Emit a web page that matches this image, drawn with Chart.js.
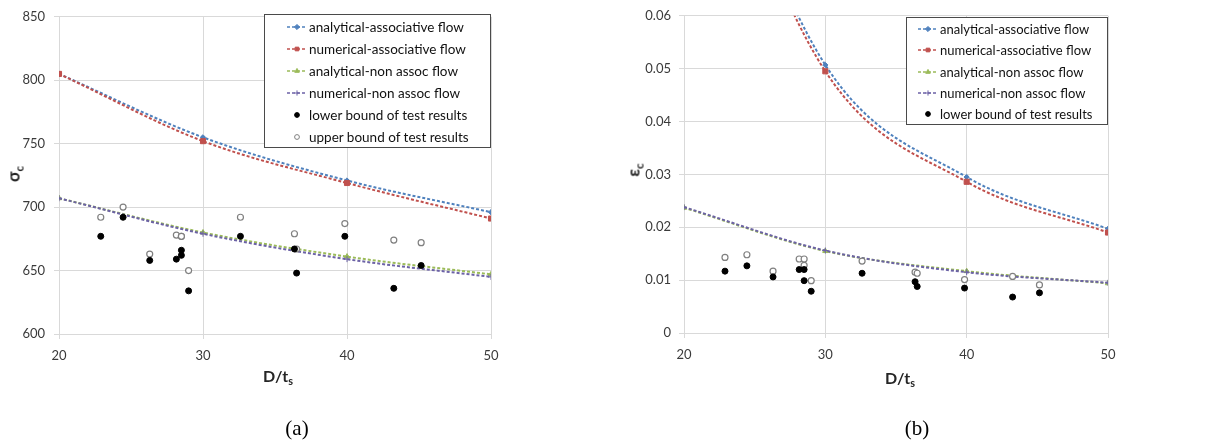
<!DOCTYPE html>
<html>
<head>
<meta charset="utf-8">
<script src="https://cdn.jsdelivr.net/npm/chart.js@4.4.1/dist/chart.umd.min.js"></script>
<style>
  body { margin: 0; background: #fff; }
  #page { position: relative; width: 1215px; height: 445px; overflow: hidden; font-family: Lato, "Noto Sans", sans-serif; }
  .panel { position: absolute; top: 0; }
  .legend { position: absolute; background: #fff; border: 1px solid #4a4a4a; box-sizing: border-box; }
  .legend .row { position: absolute; left: 0; display: flex; align-items: center; white-space: nowrap; color: #111; }
  .legend canvas { display: block; }
  .ytitle, .xtitle { position: absolute; font-weight: bold; color: #262626; font-size: 16px; white-space: nowrap; font-family: Lato, "DejaVu Sans", sans-serif; }
  .ytitle { transform: translate(-50%, -50%) rotate(-90deg); font-size: 17px; }
  .xtitle { transform: translate(-50%, -50%); }
  .caption { position: absolute; font-family: "Liberation Serif", "Times New Roman", serif; font-size: 21px; color: #000; transform: translate(-50%, -50%); }
  sub { font-size: 68%; vertical-align: -0.35em; line-height: 0; }
</style>
</head>
<body>
<div id="page">
  <div class="panel" style="left:0px"><canvas id="chartA" width="600" height="390"></canvas></div>
  <div class="panel" style="left:600px"><canvas id="chartB" width="615" height="390"></canvas></div>
  <div class="legend" id="legendA" style="left:264px; top:14px; width:227px; height:134px"></div>
  <div class="legend" id="legendB" style="left:906px; top:17px; width:202px; height:108px"></div>
  <div class="ytitle" style="left:13px; top:174px">σ<sub>c</sub></div>
  <div class="ytitle" style="left:633px; top:170px">ε<sub>c</sub></div>
  <div class="xtitle" style="left:278px; top:375px">D/t<sub>s</sub></div>
  <div class="xtitle" style="left:900px; top:377px">D/t<sub>s</sub></div>
  <div class="caption" style="left:297px; top:428px">(a)</div>
  <div class="caption" style="left:917px; top:428px">(b)</div>
</div>
<script>
// D/ts values where the model curves were evaluated
const dtCurve = [20, 30, 40, 50];

// (a) critical stress
const sigmaAnalyticalAssoc = [805, 755, 721, 696];
const sigmaNumericalAssoc = [805, 752, 719, 691];
const sigmaAnalyticalNon = [707, 680, 661, 647];
const sigmaNumericalNon = [707, 679, 659, 645];

// (b) critical strain (assoc values at 20 are above the axis, estimated)
const epsAnalyticalAssoc = [0.112, 0.0507, 0.0295, 0.0197];
const epsNumericalAssoc = [0.11, 0.0495, 0.0286, 0.019];
const epsAnalyticalNon = [0.0237, 0.0155, 0.0117, 0.0094];
const epsNumericalNon = [0.0238, 0.0156, 0.0115, 0.0095];

// test specimens
const dtTests = [22.9, 24.45, 26.3, 28.15, 28.5, 28.5, 29.0, 32.6, 36.35, 36.5, 39.85, 43.25, 45.15];
const sigmaLower = [677, 692, 658, 659, 666, 662, 634, 677, 667, 648, 677, 636, 654];
const sigmaUpper = [692, 700, 663, 678, 677, 677, 650, 692, 679, 667, 687, 674, 672];
const epsLower = [0.0117, 0.0127, 0.0106, 0.012, 0.012, 0.0099, 0.0079, 0.0113, 0.0097, 0.0088, 0.0085, 0.0068, 0.0076];
const epsUpper = [0.0143, 0.0148, 0.0117, 0.014, 0.014, 0.0128, 0.0099, 0.0136, 0.0115, 0.0113, 0.0101, 0.0107, 0.0091];

const seriesLabels = [
    'analytical-associative flow',
    'numerical-associative flow',
    'analytical-non assoc flow',
    'numerical-non assoc flow',
    'lower bound of test results',
    'upper bound of test results'
];

const xTicks = [20, 30, 40, 50];
const sigmaTicks = [600, 650, 700, 750, 800, 850];
const epsTicks = [0, 0.01, 0.02, 0.03, 0.04, 0.05, 0.06];

const gridColor = '#d9d9d9';
const tickColor = '#3a3a3a';

function pairs(xs, ys) {
    return xs.map((x, i) => ({ x: x, y: ys[i] }));
}

function curve(label, ys, color, style, radius, order) {
    return {
        label: label,
        data: pairs(dtCurve, ys),
        showLine: true,
        borderColor: color,
        backgroundColor: color,
        borderWidth: 2,
        borderDash: [3, 2],
        cubicInterpolationMode: 'monotone',
        capBezierPoints: false,
        pointStyle: style,
        pointRadius: radius,
        pointBorderWidth: 1,
        order: order
    };
}

function tests(label, ys, filled, order) {
    return {
        label: label,
        data: pairs(dtTests, ys),
        showLine: false,
        pointStyle: 'circle',
        pointRadius: 3,
        pointBorderWidth: filled ? 1 : 1.2,
        borderColor: filled ? '#000' : '#808080',
        backgroundColor: filled ? '#000' : '#fff',
        order: order
    };
}

function buildDatasets(a1, a2, a3, a4, lower, upper) {
    // filled test points end up on top, as in the original
    return [
        curve(seriesLabels[0], a1, '#4f81bd', 'rectRot', 2.6, 6),
        curve(seriesLabels[1], a2, '#c0504d', 'rect', 3.6, 5),
        curve(seriesLabels[2], a3, '#9bbb59', 'triangle', 3, 4),
        curve(seriesLabels[3], a4, '#6c62a6', 'cross', 3, 3),
        tests(seriesLabels[4], lower, true, 1),
        tests(seriesLabels[5], upper, false, 2)
    ];
}

function makeChart(canvasId, cfg) {
    const ctx = document.getElementById(canvasId).getContext('2d');
    return new Chart(ctx, {
        type: 'scatter',
        data: { datasets: cfg.datasets },
        options: {
            responsive: false,
            animation: false,
            layout: { padding: { top: cfg.top, right: cfg.right, left: 0, bottom: 0 } },
            plugins: { legend: { display: false }, tooltip: { enabled: false } },
            scales: {
                x: {
                    type: 'linear',
                    min: xTicks[0],
                    max: xTicks[xTicks.length - 1],
                    afterBuildTicks: (s) => { s.ticks = xTicks.map(v => ({ value: v })); },
                    afterFit: (s) => { s.height = cfg.xHeight; },
                    grid: { color: gridColor, tickLength: 5 },
                    border: { color: gridColor },
                    ticks: { color: tickColor, font: { family: 'Lato', size: 13 }, padding: 9, maxRotation: 0 }
                },
                y: {
                    type: 'linear',
                    min: cfg.yTicks[0],
                    max: cfg.yTicks[cfg.yTicks.length - 1],
                    afterBuildTicks: (s) => { s.ticks = cfg.yTicks.map(v => ({ value: v })); },
                    afterFit: (s) => { s.width = cfg.yWidth; },
                    grid: { color: gridColor, tickLength: 5 },
                    border: { color: gridColor },
                    ticks: {
                        color: tickColor,
                        font: { family: 'Lato', size: 13 },
                        padding: cfg.yPad,
                        callback: cfg.yFormat
                    }
                }
            }
        }
    });
}

// html legend drawn inside the plot like the original
function buildLegend(boxId, datasets, opts) {
    const box = document.getElementById(boxId);
    datasets.forEach((ds, i) => {
        const row = document.createElement('div');
        row.className = 'row';
        row.style.top = (opts.firstRow + i * opts.rowStep - 8) + 'px';
        row.style.height = '16px';
        row.style.left = opts.symLeft + 'px';
        row.style.fontSize = opts.fontSize + 'px';

        const c = document.createElement('canvas');
        c.width = 20;
        c.height = 12;
        const g = c.getContext('2d');
        if (ds.showLine) {
            g.strokeStyle = ds.borderColor;
            g.lineWidth = 1.6;
            g.setLineDash([3, 2]);
            g.beginPath();
            g.moveTo(0, 6);
            g.lineTo(20, 6);
            g.stroke();
            g.setLineDash([]);
        }
        g.fillStyle = ds.backgroundColor;
        g.strokeStyle = ds.borderColor;
        g.lineWidth = 1;
        Chart.helpers.drawPoint(g, {
            pointStyle: ds.pointStyle,
            radius: ds.showLine ? Math.min(ds.pointRadius, 2.6) : 2.4,
            rotation: 0,
            borderWidth: 1
        }, 10, 6);

        const label = document.createElement('span');
        label.textContent = ds.label;
        label.style.marginLeft = '2px';

        row.appendChild(c);
        row.appendChild(label);
        box.appendChild(row);
    });
}

const datasetsA = buildDatasets(sigmaAnalyticalAssoc, sigmaNumericalAssoc, sigmaAnalyticalNon,
    sigmaNumericalNon, sigmaLower, sigmaUpper);
const datasetsB = buildDatasets(epsAnalyticalAssoc, epsNumericalAssoc, epsAnalyticalNon,
    epsNumericalNon, epsLower, epsUpper);

makeChart('chartA', {
    datasets: datasetsA,
    yTicks: sigmaTicks,
    top: 14, right: 109, xHeight: 56, yWidth: 59, yPad: 9,
    yFormat: (v) => v
});

makeChart('chartB', {
    datasets: datasetsB,
    yTicks: epsTicks,
    top: 15, right: 107, xHeight: 57, yWidth: 84, yPad: 8,
    yFormat: (v) => (v === 0 ? '0' : v.toFixed(2))
});

buildLegend('legendA', datasetsA, { firstRow: 12, rowStep: 22, symLeft: 22, fontSize: 13.5 });
// the strain panel lists only five entries
buildLegend('legendB', datasetsB.slice(0, 5), { firstRow: 11, rowStep: 21.3, symLeft: 11, fontSize: 13 });
</script>
</body>
</html>
